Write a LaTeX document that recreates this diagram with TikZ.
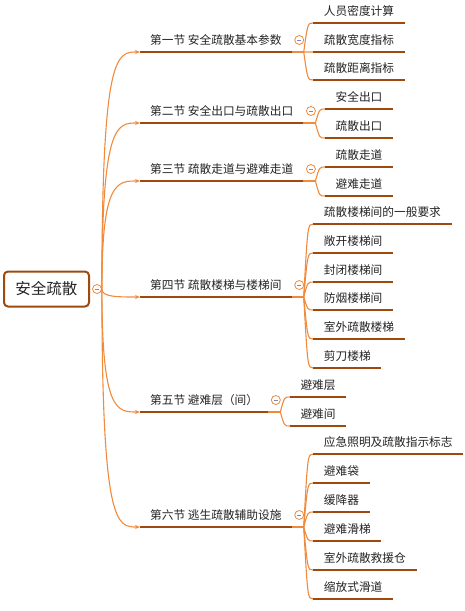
\documentclass[tikz,border=0pt]{standalone}
\usepackage{fontspec}
\setmainfont{Noto Sans CJK SC}
\usetikzlibrary{positioning,calc,arrows.meta}

\definecolor{linkc}{RGB}{240,138,60}
\definecolor{ulc}{RGB}{158,74,14}
\definecolor{txtc}{RGB}{35,35,35}
\definecolor{minusc}{RGB}{125,135,175}

\begin{document}
\begin{tikzpicture}[x=1pt,y=-1pt,
	topic/.style={anchor=south west, inner xsep=10pt, inner ysep=5.5pt,
			text height=9pt, text depth=2pt, text=txtc,
			font=\fontsize{11.7}{14}\selectfont},
	subtopic/.style={topic, inner xsep=10.5pt},
	uline/.style={draw=ulc, line width=2.6pt},
	link/.style={draw=linkc, line width=1.1pt},
	fold/.style={circle, draw=linkc, fill=white, line width=0.8pt,
			minimum size=9pt, inner sep=0pt,
			path picture={\draw[minusc, line width=0.8pt]
					([xshift=-2.2pt]path picture bounding box.center) --
					([xshift=2.2pt]path picture bounding box.center);}},
	rootlink/.style={to path={.. controls (\tikztostart |- \tikztotarget)
					and ($(\tikztostart |- \tikztotarget)+(15,0)$) .. (\tikztotarget)}},
	sublink/.style={to path={.. controls ($(\tikztostart |- \tikztotarget)+(4,0)$)
					and ($(\tikztostart |- \tikztotarget)+(4,0)$) .. (\tikztotarget)}}
]
	\useasboundingbox (0,0) rectangle (464,611);
	%% 中心主题
	\node[draw=ulc, line width=2pt, rounded corners=4pt, minimum width=85pt,
		minimum height=35pt, inner sep=0pt, text height=13.3pt, text depth=1.5pt,
		text=txtc, font=\fontsize{15.5}{18}\selectfont] (root) at (46.5,289) {安全疏散};
	\node[fold] (rootfold) at ($(root.east)+(7,0)$) {};

	%% 各节
	\node[topic] (s1) at (140,52)  {第一节 安全疏散基本参数};
	\node[topic] (s2) at (140,123) {第二节 安全出口与疏散出口};
	\node[topic] (s3) at (140,181) {第三节 疏散走道与避难走道};
	\node[topic] (s4) at (140,297) {第四节 疏散楼梯与楼梯间};
	\node[topic] (s5) at (140,412) {第五节 避难层（间）};
	\node[topic] (s6) at (140,527) {第六节 逃生疏散辅助设施};
	\foreach \s in {1,...,6}{
		\node[fold] (f\s) at ($(s\s.south east)+(7.5,-12)$) {};
		\coordinate (b\s) at ($(s\s.south east)+(12,0)$);
	}

	%% 第一节
	\node[subtopic] (c11) at ($(b1)+(9.5,-29)$) {人员密度计算};
	\node[subtopic] (c12) at ($(b1)+(9.5,0)$)   {疏散宽度指标};
	\node[subtopic] (c13) at ($(b1)+(9.5,28)$)  {疏散距离指标};
	%% 第二节
	\node[subtopic] (c21) at ($(b2)+(9.5,-14)$) {安全出口};
	\node[subtopic] (c22) at ($(b2)+(9.5,15)$)  {疏散出口};
	%% 第三节
	\node[subtopic] (c31) at ($(b3)+(9.5,-14)$) {疏散走道};
	\node[subtopic] (c32) at ($(b3)+(9.5,15)$)  {避难走道};
	%% 第四节
	\node[subtopic] (c41) at ($(b4)+(9.5,-73)$) {疏散楼梯间的一般要求};
	\node[subtopic] (c42) at ($(b4)+(9.5,-44)$) {敞开楼梯间};
	\node[subtopic] (c43) at ($(b4)+(9.5,-15)$) {封闭楼梯间};
	\node[subtopic] (c44) at ($(b4)+(9.5,13)$)  {防烟楼梯间};
	\node[subtopic] (c45) at ($(b4)+(9.5,42)$)  {室外疏散楼梯};
	\node[subtopic] (c46) at ($(b4)+(9.5,71)$)  {剪刀楼梯};
	%% 第五节
	\node[subtopic] (c51) at ($(b5)+(9.5,-15)$) {避难层};
	\node[subtopic] (c52) at ($(b5)+(9.5,14)$)  {避难间};
	%% 第六节
	\node[subtopic] (c61) at ($(b6)+(9.5,-73)$) {应急照明及疏散指示标志};
	\node[subtopic] (c62) at ($(b6)+(9.5,-44)$) {避难袋};
	\node[subtopic] (c63) at ($(b6)+(9.5,-15)$) {缓降器};
	\node[subtopic] (c64) at ($(b6)+(9.5,14)$)  {避难滑梯};
	\node[subtopic] (c65) at ($(b6)+(9.5,43)$)  {室外疏散救援仓};
	\node[subtopic] (c66) at ($(b6)+(9.5,72)$)  {缩放式滑道};

	%% 连线
	\foreach \s in {1,...,6}
		\draw[link, -{Stealth[length=5pt, width=4pt]}] (rootfold.east) to[rootlink] (s\s.south west);
	\draw[link] (s1.south east) -- (b1);
	\draw[link] (b1) to[sublink] (c11.south west) (b1) to[sublink] (c12.south west)
		(b1) to[sublink] (c13.south west);
	\draw[link] (s2.south east) -- (b2);
	\draw[link] (b2) to[sublink] (c21.south west) (b2) to[sublink] (c22.south west);
	\draw[link] (s3.south east) -- (b3);
	\draw[link] (b3) to[sublink] (c31.south west) (b3) to[sublink] (c32.south west);
	\draw[link] (s4.south east) -- (b4);
	\foreach \c in {1,...,6}
		\draw[link] (b4) to[sublink] (c4\c.south west);
	\draw[link] (s5.south east) -- (b5);
	\draw[link] (b5) to[sublink] (c51.south west) (b5) to[sublink] (c52.south west);
	\draw[link] (s6.south east) -- (b6);
	\foreach \c in {1,...,6}
		\draw[link] (b6) to[sublink] (c6\c.south west);

	%% 下划线
	\foreach \n in {s1,s2,s3,s4,s5,s6,c11,c12,c13,c21,c22,c31,c32,
			c41,c42,c43,c44,c45,c46,c51,c52,c61,c62,c63,c64,c65,c66}
		\draw[uline] (\n.south west) -- (\n.south east);
\end{tikzpicture}
\end{document}
